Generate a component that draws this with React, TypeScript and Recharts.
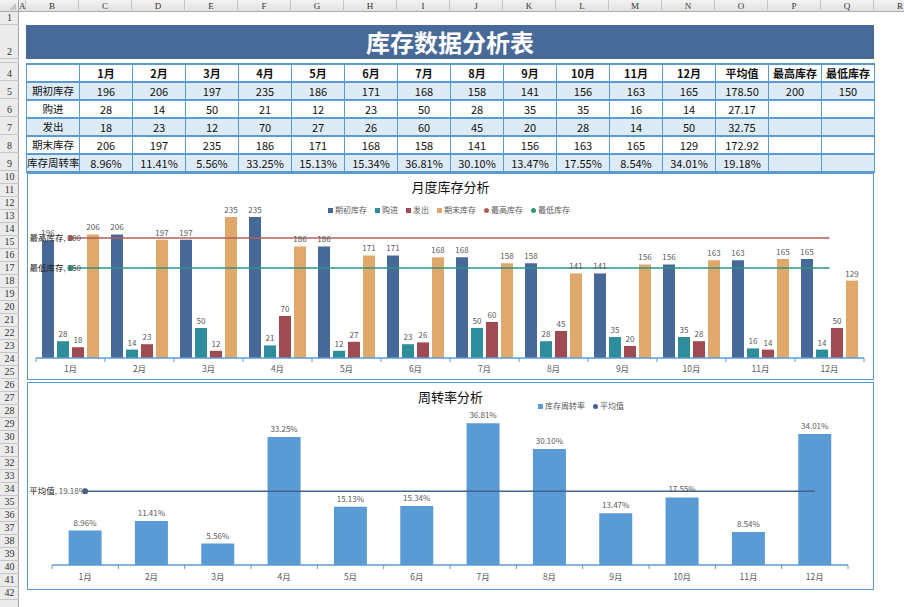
import React from "react";
import { ComposedChart, Bar, Line, XAxis, YAxis, LabelList } from "recharts";

// ---- data ----
const months = ["1月", "2月", "3月", "4月", "5月", "6月", "7月", "8月", "9月", "10月", "11月", "12月"];
const openingStock = [196, 206, 197, 235, 186, 171, 168, 158, 141, 156, 163, 165];
const purchases = [28, 14, 50, 21, 12, 23, 50, 28, 35, 35, 16, 14];
const issues = [18, 23, 12, 70, 27, 26, 60, 45, 20, 28, 14, 50];
const closingStock = [206, 197, 235, 186, 171, 168, 158, 141, 156, 163, 165, 129];
const turnover = [8.96, 11.41, 5.56, 33.25, 15.13, 15.34, 36.81, 30.1, 13.47, 17.55, 8.54, 34.01];
const maxStock = 200;
const minStock = 150;
const turnoverAvg = 19.18;

const rowLabels = ["期初库存", "购进", "发出", "期末库存", "库存周转率"];
const rowAverages = ["178.50", "27.17", "32.75", "172.92", "19.18%"];
const headerExtra = ["平均值", "最高库存", "最低库存"];
const colLetters = ["A", "B", "C", "D", "E", "F", "G", "H", "I", "J", "K", "L", "M", "N", "O", "P", "Q", "R"];

const stockAxis = [0, 250];
const turnoverAxis = [0, 40];

// ---- styles ----
const FONT = '"Noto Sans CJK SC", "Noto Sans", sans-serif';
const HEAD_FONT = '"Liberation Serif", "DejaVu Serif", serif';
const C_OPEN = "#476998";
const C_BUY = "#2D8D9B";
const C_OUT = "#A04B54";
const C_CLOSE = "#E0A86A";
const C_MAX = "#B05F57";
const C_MIN = "#2E9480";
const C_RATE = "#5B9BD5";
const C_AVG = "#44628E";
const AXIS = "#5B9BD5";
const LABEL = "#595959";
const BORDER = "#5B9BD5";
const ALT = "#DDEBF7";

const rowHeights = [13, 34, 4, 18, 18, 18, 18, 18, 18, ...Array(35).fill(13)];
const rowTops: number[] = [];
rowHeights.reduce((acc, h) => {
  rowTops.push(acc);
  return acc + h;
}, 12);

const colLeft = (i: number) => (i === 0 ? 19 : 26 + (i - 1) * 53);
const colWidth = (i: number) => (i === 0 ? 7 : 53);

const stockData = months.map((m, i) => ({
  month: m,
  opening: openingStock[i],
  purchase: purchases[i],
  issue: issues[i],
  closing: closingStock[i],
  max: maxStock,
  min: minStock,
}));

const rateData = months.map((m, i) => ({ month: m, rate: turnover[i], avg: turnoverAvg }));

function makeTick(band: number, count: number, labelDy: number) {
  return (props: any) => {
    const { x, y, payload, index } = props;
    return (
      <g>
        <line x1={x - band / 2} y1={y} x2={x - band / 2} y2={y + 4} stroke={AXIS} strokeWidth={1} />
        {index === count - 1 && (
          <line x1={x + band / 2} y1={y} x2={x + band / 2} y2={y + 4} stroke={AXIS} strokeWidth={1} />
        )}
        <text x={x} y={y + labelDy} textAnchor="middle" fontSize={8.5} fill={LABEL} fontFamily={FONT}>
          {payload.value}
        </text>
      </g>
    );
  };
}

function firstDot(color: string) {
  return (props: any) => (
    <circle key={`dot-${props.index}`} cx={props.cx} cy={props.cy} r={props.index === 0 ? 3 : 0} fill={color} />
  );
}

function firstLabel(name: string, valueText: string, dx: number) {
  return (props: any) => {
    if (props.index !== 0) return null;
    return (
      <text x={props.x + dx} y={props.y + 3} textAnchor="start" fontSize={8.5} fontFamily={FONT}>
        <tspan fill="#222">{name}</tspan>
        <tspan fill={LABEL} fontSize={8}>{`, ${valueText}`}</tspan>
      </text>
    );
  };
}

function LegendRow({ items, left, top }: { items: { label: string; color: string; round?: boolean }[]; left: number; top: number }) {
  return (
    <div style={{ position: "absolute", left, top, display: "flex", gap: 8, fontSize: 8, color: LABEL, fontFamily: FONT, whiteSpace: "nowrap", lineHeight: "12px" }}>
      {items.map((it) => (
        <div key={it.label} style={{ display: "flex", alignItems: "center", gap: 2 }}>
          <span style={{ width: 5, height: 5, background: it.color, borderRadius: it.round ? "50%" : 0, display: "inline-block" }} />
          <span>{it.label}</span>
        </div>
      ))}
    </div>
  );
}

function SheetFrame() {
  return (
    <>
      {/* column header */}
      <div style={{ position: "absolute", left: 0, top: 0, width: 904, height: 12, background: "linear-gradient(#F3F3F3,#E2E2E2)", borderBottom: "1px solid #ABABAB", boxSizing: "border-box" }} />
      <div style={{ position: "absolute", left: 0, top: 0, width: 19, height: 12, borderRight: "1px solid #ABABAB", boxSizing: "border-box" }}>
        <div style={{ position: "absolute", right: 2, bottom: 2, width: 0, height: 0, borderLeft: "7px solid transparent", borderBottom: "7px solid #C4C4C4" }} />
      </div>
      {colLetters.map((c, i) => (
        <div key={c} style={{ position: "absolute", left: colLeft(i), top: 0, width: colWidth(i), height: 12, borderRight: "1px solid #C6C6C6", boxSizing: "border-box", fontSize: 9, lineHeight: "12px", textAlign: "center", fontFamily: HEAD_FONT, color: "#333" }}>
          {c}
        </div>
      ))}
      {/* row header */}
      <div style={{ position: "absolute", left: 0, top: 12, width: 19, height: 595, background: "#EBEBEB", borderRight: "1px solid #ABABAB", boxSizing: "border-box" }} />
      {rowTops.map((t, i) =>
        t < 600 ? (
          <div key={i} style={{ position: "absolute", left: 0, top: t, width: 19, height: rowHeights[i], borderBottom: "1px solid #C6C6C6", boxSizing: "border-box", fontSize: 10, fontFamily: HEAD_FONT, color: "#333", display: "flex", alignItems: "flex-end", justifyContent: "center", overflow: "hidden", lineHeight: "12px" }}>
            {rowHeights[i] > 6 ? i + 1 : ""}
          </div>
        ) : null
      )}
    </>
  );
}

function DataTable() {
  const header = ["", ...months, ...headerExtra];
  const body = rowLabels.map((label, r) => {
    const src = [openingStock, purchases, issues, closingStock][r];
    const vals = r < 4 ? src.map((v) => String(v)) : turnover.map((v) => `${v.toFixed(2)}%`);
    const extra = r === 0 ? [String(maxStock), String(minStock)] : ["", ""];
    return [label, ...vals, rowAverages[r], ...extra];
  });
  const rows = [header, ...body];
  return (
    <div style={{ position: "absolute", left: 26, top: 63, borderTop: `2px solid ${BORDER}`, borderLeft: `1px solid ${BORDER}` }}>
      {rows.map((cells, r) => (
        <div key={r} style={{ display: "flex", background: r % 2 === 1 ? ALT : "#fff" }}>
          {cells.map((c, ci) => (
            <div key={ci} style={{ width: 53, height: 18, boxSizing: "border-box", borderRight: `1px solid ${BORDER}`, borderBottom: `2px solid ${BORDER}`, fontSize: ci === 0 && r > 0 ? 10.5 : 11, fontWeight: r === 0 ? 700 : 400, fontFamily: FONT, color: "#111", textAlign: "center", lineHeight: "16px", whiteSpace: "nowrap", overflow: "visible" }}>
              {c}
            </div>
          ))}
        </div>
      ))}
    </div>
  );
}

const band1 = (847 - 9 - 10) / 12;
const band2 = (847 - 25 - 26) / 12;

export default function App() {
  return (
    <div style={{ position: "absolute", left: 0, top: 0, width: 904, height: 607, overflow: "hidden", background: "#fff", fontFamily: FONT }}>
      <SheetFrame />
      <div style={{ position: "absolute", left: 26, top: 25, width: 848, height: 34, background: "#476A99", color: "#fff", fontSize: 24, fontWeight: 700, textAlign: "center", lineHeight: "34px", fontFamily: FONT }}>
        库存数据分析表
      </div>
      <DataTable />

      {/* chart 1 */}
      <div style={{ position: "absolute", left: 27, top: 173, width: 847, height: 207, background: "#fff" }}>
        <div style={{ position: "absolute", left: 0, width: 847, top: 5, textAlign: "center", fontSize: 13, color: "#111", fontFamily: FONT, lineHeight: "18px" }}>月度库存分析</div>
        <LegendRow
          left={301}
          top={31}
          items={[
            { label: "期初库存", color: C_OPEN },
            { label: "购进", color: C_BUY },
            { label: "发出", color: C_OUT },
            { label: "期末库存", color: C_CLOSE },
            { label: "最高库存", color: C_MAX, round: true },
            { label: "最低库存", color: C_MIN, round: true },
          ]}
        />
        <div style={{ position: "absolute", left: 0, top: 0 }}>
          <ComposedChart width={847} height={207} data={stockData} margin={{ top: 35, right: 10, bottom: 2, left: 9 }} barGap={3} barCategoryGap={6}>
            <XAxis dataKey="month" interval={0} height={20} tickLine={false} tickSize={0} tickMargin={0} axisLine={{ stroke: AXIS, strokeWidth: 1.5 }} tick={makeTick(band1, 12, 14)} />
            <YAxis hide domain={stockAxis} />
            <Bar dataKey="opening" fill={C_OPEN} isAnimationActive={false}>
              <LabelList dataKey="opening" position="top" offset={4} fontSize={8} fill={LABEL} fontFamily={FONT} />
            </Bar>
            <Bar dataKey="purchase" fill={C_BUY} isAnimationActive={false}>
              <LabelList dataKey="purchase" position="top" offset={4} fontSize={8} fill={LABEL} fontFamily={FONT} />
            </Bar>
            <Bar dataKey="issue" fill={C_OUT} isAnimationActive={false}>
              <LabelList dataKey="issue" position="top" offset={4} fontSize={8} fill={LABEL} fontFamily={FONT} />
            </Bar>
            <Bar dataKey="closing" fill={C_CLOSE} isAnimationActive={false}>
              <LabelList dataKey="closing" position="top" offset={4} fontSize={8} fill={LABEL} fontFamily={FONT} />
            </Bar>
            <Line dataKey="max" stroke={C_MAX} strokeWidth={1.5} dot={firstDot(C_MAX)} activeDot={false} isAnimationActive={false}>
              <LabelList dataKey="max" content={firstLabel("最高库存", String(maxStock), -41)} />
            </Line>
            <Line dataKey="min" stroke={C_MIN} strokeWidth={1.5} dot={firstDot(C_MIN)} activeDot={false} isAnimationActive={false}>
              <LabelList dataKey="min" content={firstLabel("最低库存", String(minStock), -41)} />
            </Line>
          </ComposedChart>
        </div>
        <div style={{ position: "absolute", inset: 0, border: `1.5px solid ${BORDER}`, pointerEvents: "none" }} />
      </div>

      {/* chart 2 */}
      <div style={{ position: "absolute", left: 27, top: 382, width: 847, height: 208, background: "#fff" }}>
        <div style={{ position: "absolute", left: 0, width: 847, top: 6, textAlign: "center", fontSize: 13, color: "#111", fontFamily: FONT, lineHeight: "18px" }}>周转率分析</div>
        <LegendRow
          left={511}
          top={18}
          items={[
            { label: "库存周转率", color: C_RATE },
            { label: "平均值", color: C_AVG, round: true },
          ]}
        />
        <div style={{ position: "absolute", left: 0, top: 0 }}>
          <ComposedChart width={847} height={208} data={rateData} margin={{ top: 29, right: 26, bottom: 3, left: 25 }} barCategoryGap="25%">
            <XAxis dataKey="month" interval={0} height={22} tickLine={false} tickSize={0} tickMargin={0} axisLine={{ stroke: AXIS, strokeWidth: 1.5 }} tick={makeTick(band2, 12, 15)} />
            <YAxis hide domain={turnoverAxis} />
            <Bar dataKey="rate" fill={C_RATE} isAnimationActive={false}>
              <LabelList dataKey="rate" position="top" offset={5} fontSize={8} fill={LABEL} fontFamily={FONT} formatter={(v: any) => `${Number(v).toFixed(2)}%`} />
            </Bar>
            <Line dataKey="avg" stroke={C_AVG} strokeWidth={1.5} dot={firstDot(C_AVG)} activeDot={false} isAnimationActive={false}>
              <LabelList dataKey="avg" content={firstLabel("平均值", `${turnoverAvg.toFixed(2)}%`, -56)} />
            </Line>
          </ComposedChart>
        </div>
        <div style={{ position: "absolute", inset: 0, border: `1.5px solid ${BORDER}`, pointerEvents: "none" }} />
      </div>
    </div>
  );
}
